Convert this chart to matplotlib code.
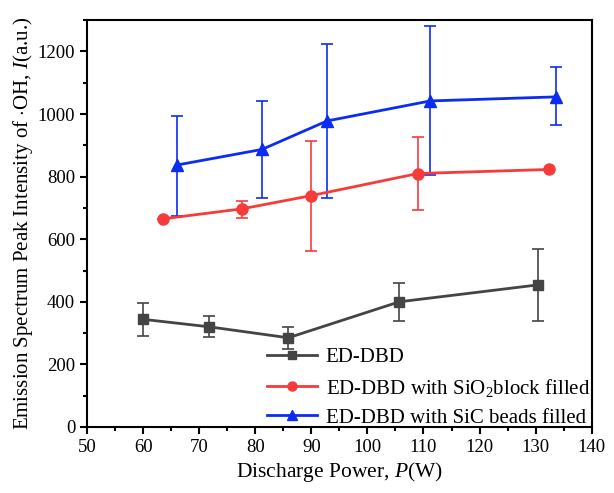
import matplotlib
matplotlib.use("Agg")
import matplotlib.pyplot as plt
from matplotlib.ticker import MultipleLocator
from matplotlib.lines import Line2D

plt.rcParams['font.family'] = ['Liberation Serif', 'DejaVu Serif']
plt.rcParams['mathtext.fontset'] = 'custom'
plt.rcParams['mathtext.rm'] = 'Liberation Serif'
plt.rcParams['mathtext.it'] = 'Liberation Serif:italic'

# ED-DBD
x_ed = [60.0, 71.8, 85.9, 105.7, 130.4]
y_ed = [344, 320, 285, 400, 454]
ed_lo = [52, 32, 35, 60, 114]
ed_hi = [51, 36, 35, 61, 115]

# SiO2 block filled
x_si = [63.5, 77.6, 89.9, 109.0, 132.4]
y_si = [665, 697, 739, 810, 823]
si_lo = [0, 30, 176, 118, 0]
si_hi = [0, 26, 176, 117, 0]

# SiC beads filled
x_sc = [66.0, 81.2, 92.8, 111.2, 133.7]
y_sc = [837, 887, 978, 1042, 1055]
sc_lo = [163, 156, 247, 236, 89]
sc_hi = [158, 154, 246, 240, 94]

labels = ['ED-DBD', r'ED-DBD with SiO$_2$block filled', 'ED-DBD with SiC beads filled']

fig = plt.figure(figsize=(6.14, 4.93), dpi=100)
ax = fig.add_axes([0.1417, 0.134, 0.822, 0.825])

c_ed, c_si, c_sc = '#444444', '#f73b3b', '#0b2cf3'

def draw(x, y, lo, hi, c, m, ms):
    ax.errorbar(x, y, yerr=[lo, hi], color=c, ecolor=c, elinewidth=1.2, capsize=4,
                capthick=1.2, lw=2, marker=m, ms=ms)

draw(x_ed, y_ed, ed_lo, ed_hi, c_ed, 's', 7)
draw(x_si, y_si, si_lo, si_hi, c_si, 'o', 8)
draw(x_sc, y_sc, sc_lo, sc_hi, c_sc, '^', 8)

ax.set_xlim(50, 140)
ax.set_ylim(0, 1300)
ax.xaxis.set_major_locator(MultipleLocator(10))
ax.xaxis.set_minor_locator(MultipleLocator(5))
ax.yaxis.set_major_locator(MultipleLocator(200))
ax.yaxis.set_minor_locator(MultipleLocator(100))
ax.tick_params(which='both', direction='out', width=1.5, labelsize=13.5)
ax.tick_params(which='major', length=5)
ax.tick_params(which='minor', length=3)
for s in ax.spines.values():
    s.set_linewidth(1.5)

ax.set_xlabel(r'Discharge Power, $\mathit{P}$(W)', fontsize=15.5, labelpad=3)
ax.set_ylabel(r'Emission Spectrum Peak Intensity of $\cdot$OH, $\mathit{I}$(a.u.)', fontsize=15, labelpad=2)

handles = [Line2D([], [], color=c_ed, lw=2, marker='s', ms=6),
           Line2D([], [], color=c_si, lw=2, marker='o', ms=6.5),
           Line2D([], [], color=c_sc, lw=2, marker='^', ms=6.5)]
ax.legend(handles, labels, loc='lower right', bbox_to_anchor=(1.005, -0.012), frameon=False,
          fontsize=15, handlelength=2.4, borderaxespad=0.0, borderpad=0.2,
          labelspacing=0.45, handletextpad=0.4)

fig.savefig('out.png', dpi=100)
